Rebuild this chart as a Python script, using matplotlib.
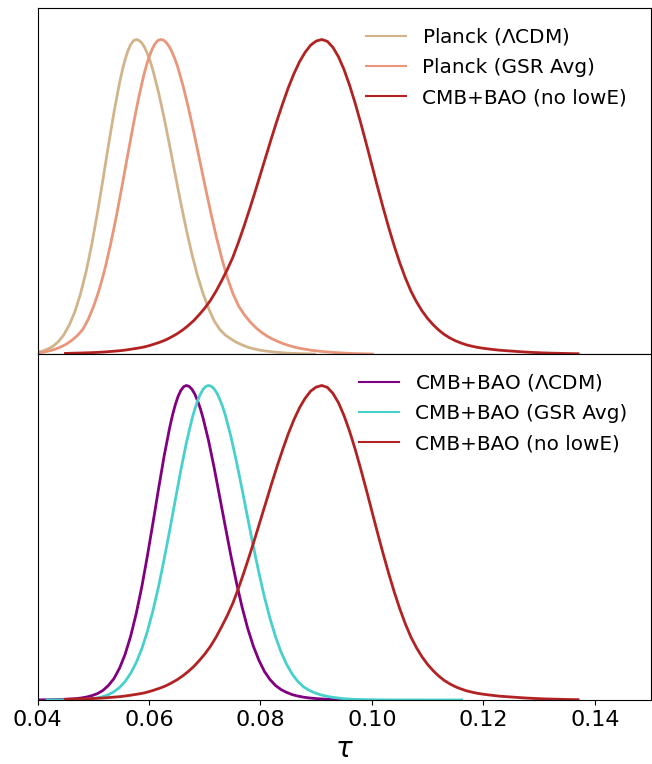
import matplotlib
matplotlib.use("Agg")
import matplotlib.pyplot as plt
from matplotlib.lines import Line2D

# Posterior curves (peak normalised to 1)

# Planck (LCDM)
tau_planck_lcdm = [0.0400, 0.0407, 0.0417, 0.0427, 0.0437, 0.0447, 0.0457, 0.0467, 0.0477, 0.0487,
                   0.0497, 0.0507, 0.0517, 0.0527, 0.0537, 0.0547, 0.0552, 0.0557, 0.0562, 0.0567,
                   0.0572, 0.0577, 0.0582, 0.0587, 0.0592, 0.0597, 0.0602, 0.0607, 0.0617, 0.0627,
                   0.0637, 0.0647, 0.0657, 0.0667, 0.0677, 0.0687, 0.0697, 0.0707, 0.0717, 0.0727,
                   0.0737, 0.0747, 0.0757, 0.0767, 0.0777, 0.0787, 0.0797, 0.0807, 0.0827, 0.0847,
                   0.0877, 0.0897]
p_planck_lcdm = [0.006, 0.008, 0.015, 0.024, 0.039, 0.061, 0.093, 0.135, 0.192, 0.262,
                 0.347, 0.445, 0.552, 0.662, 0.768, 0.862, 0.902, 0.936, 0.964, 0.984,
                 0.996, 1.000, 0.997, 0.989, 0.975, 0.955, 0.931, 0.902, 0.832, 0.751,
                 0.662, 0.570, 0.480, 0.395, 0.317, 0.249, 0.192, 0.144, 0.105, 0.078,
                 0.060, 0.048, 0.037, 0.029, 0.022, 0.017, 0.013, 0.010, 0.006, 0.003,
                 0.001, 0.000]

# Planck (GSR Avg)
tau_planck_gsr = [0.0401, 0.0411, 0.0421, 0.0431, 0.0441, 0.0451, 0.0461, 0.0471, 0.0481, 0.0491,
                  0.0501, 0.0511, 0.0521, 0.0531, 0.0541, 0.0551, 0.0561, 0.0571, 0.0581, 0.0591,
                  0.0596, 0.0601, 0.0606, 0.0611, 0.0616, 0.0621, 0.0626, 0.0631, 0.0636, 0.0641,
                  0.0646, 0.0651, 0.0661, 0.0671, 0.0681, 0.0691, 0.0701, 0.0711, 0.0721, 0.0731,
                  0.0741, 0.0751, 0.0761, 0.0771, 0.0781, 0.0791, 0.0801, 0.0811, 0.0821, 0.0831,
                  0.0841, 0.0851, 0.0861, 0.0871, 0.0881, 0.0891, 0.0911, 0.0931, 0.0961, 0.1001]
p_planck_gsr = [0.004, 0.0065, 0.010, 0.015, 0.022, 0.031, 0.043, 0.058, 0.078, 0.111,
                0.154, 0.207, 0.272, 0.349, 0.435, 0.529, 0.626, 0.722, 0.812, 0.890,
                0.922, 0.949, 0.971, 0.987, 0.997, 1.000, 0.998, 0.990, 0.978, 0.961,
                0.940, 0.915, 0.853, 0.780, 0.700, 0.615, 0.530, 0.448, 0.371, 0.301,
                0.240, 0.190, 0.152, 0.125, 0.103, 0.085, 0.070, 0.058, 0.048, 0.040,
                0.033, 0.027, 0.022, 0.018, 0.015, 0.012, 0.008, 0.005, 0.002, 0.000]

# CMB+BAO (no lowE), shown in both panels
tau_nolowe = [0.0450, 0.0460, 0.0470, 0.0480, 0.0490, 0.0500, 0.0510, 0.0520, 0.0530, 0.0540,
              0.0550, 0.0560, 0.0570, 0.0580, 0.0590, 0.0600, 0.0610, 0.0620, 0.0630, 0.0640,
              0.0650, 0.0660, 0.0670, 0.0680, 0.0690, 0.0700, 0.0710, 0.0720, 0.0730, 0.0740,
              0.0750, 0.0760, 0.0770, 0.0780, 0.0790, 0.0800, 0.0810, 0.0820, 0.0830, 0.0840,
              0.0850, 0.0860, 0.0870, 0.0880, 0.0890, 0.0900, 0.0910, 0.0920, 0.0930, 0.0940,
              0.0950, 0.0960, 0.0970, 0.0980, 0.0990, 0.1000, 0.1010, 0.1020, 0.1030, 0.1040,
              0.1050, 0.1060, 0.1070, 0.1080, 0.1090, 0.1100, 0.1110, 0.1120, 0.1130, 0.1140,
              0.1150, 0.1160, 0.1170, 0.1180, 0.1190, 0.1200, 0.1210, 0.1220, 0.1230, 0.1240,
              0.1250, 0.1260, 0.1270, 0.1280, 0.1290, 0.1300, 0.1310, 0.1320, 0.1330, 0.1340,
              0.1350, 0.1360, 0.1370]
p_nolowe = [0.002, 0.0025, 0.003, 0.0035, 0.004, 0.0047, 0.0055, 0.0066, 0.008, 0.0094,
            0.011, 0.0133, 0.016, 0.0188, 0.022, 0.0265, 0.032, 0.038, 0.045, 0.054,
            0.064, 0.076, 0.090, 0.106, 0.125, 0.146, 0.170, 0.199, 0.232, 0.267,
            0.306, 0.353, 0.404, 0.458, 0.514, 0.572, 0.630, 0.688, 0.744, 0.797,
            0.847, 0.891, 0.929, 0.959, 0.982, 0.995, 1.000, 0.994, 0.975, 0.945,
            0.904, 0.854, 0.797, 0.734, 0.668, 0.600, 0.532, 0.466, 0.403, 0.344,
            0.290, 0.242, 0.200, 0.166, 0.137, 0.113, 0.093, 0.076, 0.062, 0.051,
            0.042, 0.035, 0.029, 0.0247, 0.021, 0.0183, 0.016, 0.0139, 0.012, 0.0107,
            0.0095, 0.0082, 0.007, 0.0059, 0.005, 0.0042, 0.0035, 0.003, 0.0025, 0.0021,
            0.0017, 0.0013, 0.001]

# CMB+BAO (LCDM)
tau_cmb_lcdm = [0.0400, 0.0427, 0.0447, 0.0467, 0.0477, 0.0487, 0.0497, 0.0507, 0.0517, 0.0527,
                0.0537, 0.0547, 0.0557, 0.0567, 0.0577, 0.0587, 0.0597, 0.0607, 0.0617, 0.0627,
                0.0637, 0.0642, 0.0647, 0.0652, 0.0657, 0.0662, 0.0667, 0.0672, 0.0677, 0.0682,
                0.0687, 0.0692, 0.0697, 0.0707, 0.0717, 0.0727, 0.0737, 0.0747, 0.0757, 0.0767,
                0.0777, 0.0787, 0.0797, 0.0807, 0.0817, 0.0827, 0.0837, 0.0847, 0.0857, 0.0867,
                0.0877, 0.0887, 0.0907, 0.0927, 0.0947, 0.0967]
p_cmb_lcdm = [0.0003, 0.001, 0.002, 0.004, 0.006, 0.009, 0.0135, 0.020, 0.030, 0.046,
              0.068, 0.101, 0.145, 0.203, 0.275, 0.360, 0.458, 0.563, 0.671, 0.775,
              0.866, 0.905, 0.938, 0.965, 0.984, 0.996, 1.000, 0.997, 0.988, 0.973,
              0.952, 0.927, 0.896, 0.823, 0.737, 0.644, 0.550, 0.458, 0.372, 0.295,
              0.228, 0.172, 0.127, 0.091, 0.065, 0.046, 0.033, 0.024, 0.017, 0.0125,
              0.009, 0.0065, 0.0035, 0.0018, 0.0008, 0.0003]

# CMB+BAO (GSR Avg)
tau_cmb_gsr = [0.0417, 0.0467, 0.0487, 0.0497, 0.0507, 0.0517, 0.0527, 0.0537, 0.0547, 0.0557,
               0.0567, 0.0577, 0.0587, 0.0597, 0.0607, 0.0617, 0.0627, 0.0637, 0.0647, 0.0657,
               0.0667, 0.0677, 0.0682, 0.0687, 0.0692, 0.0697, 0.0702, 0.0707, 0.0712, 0.0717,
               0.0722, 0.0727, 0.0732, 0.0737, 0.0747, 0.0757, 0.0767, 0.0777, 0.0787, 0.0797,
               0.0807, 0.0817, 0.0827, 0.0837, 0.0847, 0.0857, 0.0867, 0.0877, 0.0887, 0.0897,
               0.0907, 0.0917, 0.0927, 0.0947, 0.0967, 0.1007, 0.1057, 0.1161]
p_cmb_gsr = [0.0, 0.0007, 0.0023, 0.0039, 0.0065, 0.0106, 0.0169, 0.0262, 0.0397, 0.0587,
             0.0847, 0.119, 0.163, 0.218, 0.284, 0.360, 0.447, 0.539, 0.635, 0.730,
             0.818, 0.893, 0.924, 0.951, 0.972, 0.988, 0.997, 1.000, 0.997, 0.989,
             0.975, 0.956, 0.933, 0.905, 0.837, 0.757, 0.670, 0.579, 0.490, 0.406,
             0.328, 0.260, 0.201, 0.152, 0.113, 0.082, 0.059, 0.042, 0.031, 0.023,
             0.017, 0.0125, 0.009, 0.0045, 0.002, 0.0005, 0.0001, 0.0]

labels_top = ["Planck ($\\Lambda$CDM)", "Planck (GSR Avg)", "CMB+BAO (no lowE)"]
labels_bottom = ["CMB+BAO ($\\Lambda$CDM)", "CMB+BAO (GSR Avg)", "CMB+BAO (no lowE)"]
colors_top = ["tan", "darksalmon", "firebrick"]
colors_bottom = ["purple", "mediumturquoise", "firebrick"]

x_ticks = [0.04, 0.06, 0.08, 0.10, 0.12, 0.14]
x_tick_labels = ["0.04", "0.06", "0.08", "0.10", "0.12", "0.14"]


def draw_panel(ax, curves, colors, labels):
    for (t, p), c in zip(curves, colors):
        ax.plot(t, p, color=c, lw=2.0, solid_joinstyle="round")
    handles = [Line2D([], [], color=c, lw=1.5) for c in colors]
    ax.legend(handles, labels, loc="upper right", bbox_to_anchor=(0.991, 1.0),
              frameon=False, fontsize=14.4, handlelength=2.0, handletextpad=0.8,
              labelspacing=0.55)
    ax.set_xlim(0.04, 0.15)
    ax.set_ylim(0, 1.1)
    ax.set_yticks([])


def main():
    plt.rcParams["mathtext.default"] = "regular"
    fig = plt.figure(figsize=(6.52, 7.64), dpi=100)
    ax_top = fig.add_axes([0.0577, 0.5366, 0.940, 0.4529])
    ax_bot = fig.add_axes([0.0577, 0.0838, 0.940, 0.4528], sharex=ax_top)

    draw_panel(ax_top,
               [(tau_planck_lcdm, p_planck_lcdm), (tau_planck_gsr, p_planck_gsr), (tau_nolowe, p_nolowe)],
               colors_top, labels_top)
    draw_panel(ax_bot,
               [(tau_cmb_lcdm, p_cmb_lcdm), (tau_cmb_gsr, p_cmb_gsr), (tau_nolowe, p_nolowe)],
               colors_bottom, labels_bottom)

    ax_top.tick_params(axis="x", which="both", length=0, labelbottom=False)
    ax_bot.set_xticks(x_ticks)
    ax_bot.set_xticklabels(x_tick_labels)
    ax_bot.tick_params(axis="x", labelsize=16)
    ax_bot.set_xlabel("$\\tau$", fontsize=20, math_fontfamily="dejavusans")
    ax_bot.xaxis.label.set_fontstyle("italic")

    fig.savefig("out.png", dpi=100)
    plt.close(fig)


if __name__ == "__main__":
    main()
